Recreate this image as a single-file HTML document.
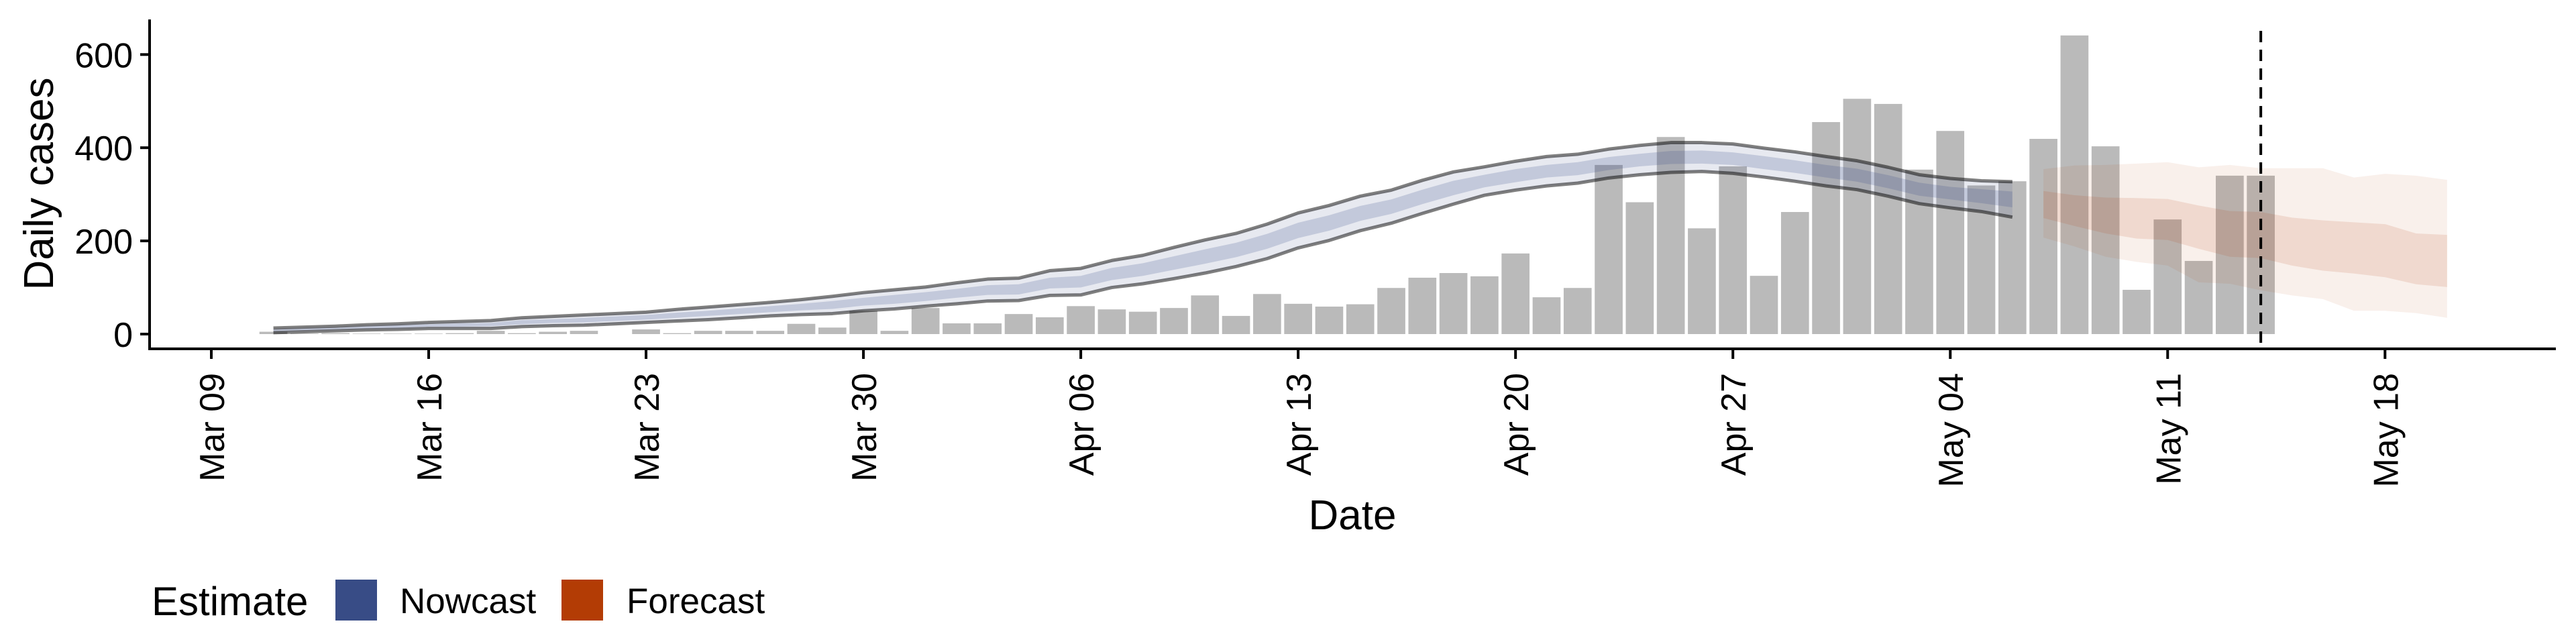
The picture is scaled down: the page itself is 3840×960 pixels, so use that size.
<!DOCTYPE html>
<html><head><meta charset="utf-8"><style>
html,body{margin:0;padding:0;background:#fff}
svg{display:block;font-family:"Liberation Sans",Arial,sans-serif}
</style></head><body>
<svg id="chart" width="3840" height="960" viewBox="0 0 3840 960" xmlns="http://www.w3.org/2000/svg"></svg>
<script>
// ---- data ----
const barStartDay = 2; // day index relative to Mar 09
const caseCounts = [5,1,2,1,1,1,2,7,2,5,7,0,10,2,7,7,7,22,14,50,7,56,23,23,43,36,60,53,48,56,83,39,86,65,59,64,99,121,131,124,173,79,99,363,283,423,227,360,125,262,455,505,494,353,436,319,328,419,641,403,95,246,157,340,340];
const nowStartDay = 2;
const nowUpper90 = [13,15,17,20,22,25,27,29,35,38,41,44,47,53,58,63,68,74,81,89,95,101,110,118,120,136,141,158,169,186,202,216,236,260,276,296,309,330,348,359,371,381,386,397,405,411,411,408,399,391,381,372,358,342,334,329,327];
const nowLower90 = [3,5,7,9,10,12,12,12,16,18,19,22,25,28,31,35,39,42,44,50,54,60,65,71,72,83,84,100,108,119,131,145,162,185,201,222,238,259,279,298,309,318,324,335,342,347,349,345,337,328,318,310,296,280,271,263,251];
const nowUpper50 = [10,12,14,17,19,21,23,24,30,32,35,38,41,46,50,55,60,65,71,78,84,90,97,105,107,121,125,142,152,167,182,196,215,239,255,275,289,310,329,342,354,363,369,380,387,393,394,390,382,373,363,355,341,325,316,311,306];
const nowLower50 = [6,8,10,12,13,16,16,17,21,24,25,28,31,35,39,43,47,51,54,61,65,71,78,84,85,98,100,116,125,138,151,165,183,206,222,243,258,279,298,315,326,336,341,352,360,365,366,363,354,346,336,327,313,297,289,281,272];
const foreStartDay = 59;
const foreUpper90 = [354,362,363,366,369,358,363,356,356,356,336,344,340,331];
const foreLower90 = [207,188,166,155,147,111,108,94,83,75,50,50,45,35];
const foreUpper50 = [307,298,293,292,290,276,264,262,250,244,240,236,216,213];
const foreLower50 = [249,232,216,205,202,183,166,163,147,136,130,122,107,101];
const yTicks = [0,200,400,600];
const xTickDays = [0,7,14,21,28,35,42,49,56,63,70];
const xTickLabels = ["Mar 09","Mar 16","Mar 23","Mar 30","Apr 06","Apr 13","Apr 20","Apr 27","May 04","May 11","May 18"];
const forecastDateDay = 66;

// ---- scales ----
const X0 = 315, DAY = 46.29;
const Y0 = 498, PER = 0.6945;
const xs = d => X0 + d*DAY;
const ys = v => Y0 - v*PER;

const svg = document.getElementById('chart');
const NS = 'http://www.w3.org/2000/svg';
function mk(tag, attrs, parent){
  const e = document.createElementNS(NS, tag);
  for (const k in attrs) e.setAttribute(k, attrs[k]);
  (parent||svg).appendChild(e);
  return e;
}

// bars
const barsG = mk('g', {});


caseCounts.forEach((v,i)=>{
  const d = barStartDay + i;
  const w = DAY*0.9;
  const r = mk('rect', {x: xs(d)-w/2, y: ys(v), width: w, height: Math.max(0, Y0 - ys(v)), fill: '#bababa'}, barsG);
  
  
});

function band(start, up, lo, fill, name){
  let pts = [];
  up.forEach((v,i)=>pts.push(xs(start+i)+','+ys(v)));
  for (let i=lo.length-1;i>=0;i--) pts.push(xs(start+i)+','+ys(lo[i]));
  const p = mk('polygon', {points: pts.join(' '), fill: fill});
  
  
}
function line(start, vals, name){
  const pts = vals.map((v,i)=>xs(start+i)+','+ys(v)).join(' ');
  const p = mk('polyline', {points: pts, fill: 'none', stroke: 'rgba(0,0,0,0.5)', 'stroke-width': 5, 'stroke-linejoin': 'round'});
  
  
}
band(nowStartDay, nowUpper90, nowLower90, 'rgba(56,76,134,0.12)', 'nowcast-90-ribbon');
band(nowStartDay, nowUpper50, nowLower50, 'rgba(56,76,134,0.2)', 'nowcast-50-ribbon');
line(nowStartDay, nowUpper90, 'nowcast-upper-line');
line(nowStartDay, nowLower90, 'nowcast-lower-line');
band(foreStartDay, foreUpper90, foreLower90, 'rgba(179,60,5,0.08)', 'forecast-90-ribbon');
band(foreStartDay, foreUpper50, foreLower50, 'rgba(179,60,5,0.12)', 'forecast-50-ribbon');

// dashed forecast date line
const dl = mk('line', {x1: xs(forecastDateDay), x2: xs(forecastDateDay), y1: 46, y2: 520, stroke: '#000', 'stroke-width': 4, 'stroke-dasharray': '17 11'});



// axes
const ax = mk('g', {});


mk('line', {x1: 223, x2: 223, y1: 29, y2: 522, stroke: '#000', 'stroke-width': 4}, ax);
mk('line', {x1: 221, x2: 3810, y1: 520, y2: 520, stroke: '#000', 'stroke-width': 4}, ax);
yTicks.forEach(v=>{
  mk('line', {x1: 209, x2: 223, y1: ys(v), y2: ys(v), stroke: '#000', 'stroke-width': 4}, ax);
  const t = mk('text', {x: 198, y: ys(v)+19, 'text-anchor': 'end', 'font-size': 52, fill: '#000'}, ax);
  t.textContent = v;
  
  
});
xTickDays.forEach((d,i)=>{
  mk('line', {x1: xs(d), x2: xs(d), y1: 520, y2: 535, stroke: '#000', 'stroke-width': 4}, ax);
  const t = mk('text', {x: 0, y: 0, 'text-anchor': 'end', 'font-size': 52, fill: '#000',
    transform: 'translate(' + (xs(d)+19) + ',556) rotate(-90)'}, ax);
  t.textContent = xTickLabels[i];
  
  
});
const yt = mk('text', {x: 0, y: 0, 'text-anchor': 'middle', 'font-size': 62, fill: '#000', transform: 'translate(79,274) rotate(-90)'});
yt.textContent = 'Daily cases';


const xt = mk('text', {x: 2016, y: 789, 'text-anchor': 'middle', 'font-size': 62, fill: '#000'});
xt.textContent = 'Date';



// legend
const lg = mk('g', {});


const lt = mk('text', {x: 226, y: 917, 'font-size': 60, fill: '#000'}, lg);
lt.textContent = 'Estimate';


const s1 = mk('rect', {x: 500, y: 864, width: 62, height: 61, fill: '#384c86'}, lg);


const t1 = mk('text', {x: 596, y: 914, 'font-size': 53, fill: '#000'}, lg);
t1.textContent = 'Nowcast';


const s2 = mk('rect', {x: 837, y: 864, width: 62, height: 61, fill: '#b33c05'}, lg);


const t2 = mk('text', {x: 934, y: 914, 'font-size': 53, fill: '#000'}, lg);
t2.textContent = 'Forecast';


</script>
</body></html>
